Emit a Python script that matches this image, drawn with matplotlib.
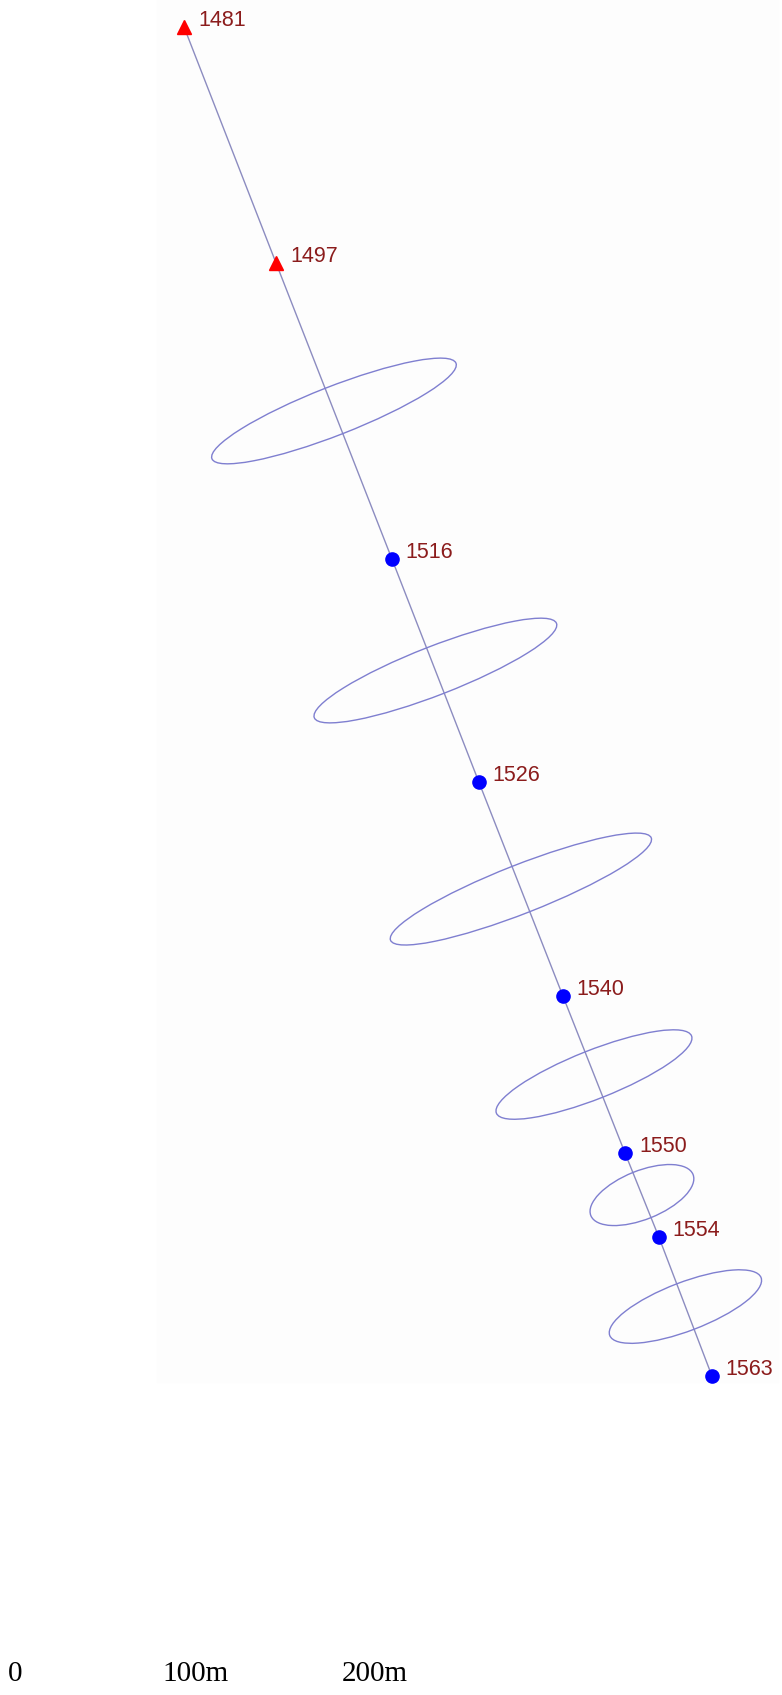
import numpy as np
import matplotlib
matplotlib.use("Agg")
import matplotlib.pyplot as plt
from matplotlib.patches import Ellipse, Rectangle

# station positions (m east / m north)
stations = ["1481", "1497", "1516", "1526", "1540", "1550", "1554", "1563"]
east = [93.9, 145.0, 209.4, 257.7, 304.4, 338.9, 357.7, 387.2]
north = [926.7, 795.6, 631.1, 507.2, 388.3, 301.1, 254.4, 177.2]
kind = ["tri", "tri", "dot", "dot", "dot", "dot", "dot", "dot"]

# error ellipses between consecutive stations (semi-axes in m)
ell_major = [72.8, 72.2, 77.8, 58.3, 30.6, 45.0]
ell_minor = [13.5, 13.5, 13.5, 13.5, 13.5, 13.5]

scale_ticks = [0, 100, 200]
scale_labels = ["0", "100m", "200m"]

W, H = 782, 1695
PX = 1.8   # pixels per metre
fig = plt.figure(figsize=(W / 100, H / 100), dpi=100)
fig.patch.set_facecolor("white")
# faint map background
fig.add_artist(Rectangle((157 / W, 313 / H), 621 / W, 1382 / H,
                         transform=fig.transFigure, color="#fdfdfd", zorder=0))

ax = fig.add_axes([0, 0, 1, 1])
ax.patch.set_alpha(0)
ax.set_xlim(-15 / PX, (W - 15) / PX)
ax.set_ylim(0, H / PX)
ax.axis("off")

e = np.array(east)
n = np.array(north)

ax.plot(e, n, color="#8c8cc0", lw=1.0, zorder=2)

for i in range(len(ell_major)):
    cx = (e[i + 1] + e[i + 2]) / 2
    cy = (n[i + 1] + n[i + 2]) / 2
    ang = np.degrees(np.arctan2(n[i + 2] - n[i + 1], e[i + 2] - e[i + 1])) + 90
    ax.add_patch(Ellipse((cx, cy), 2 * ell_major[i], 2 * ell_minor[i], angle=ang,
                         fill=False, edgecolor="#7f7fd0", lw=1.0, zorder=2))

for s, x, y, k in zip(stations, e, n, kind):
    if k == "tri":
        ax.plot(x, y, marker="^", color="#ff0000", markersize=10.5, zorder=3)
    else:
        ax.plot(x, y, marker="o", color="#0000ff", markersize=9.5, zorder=3)
    ax.annotate(s, (x, y), xytext=(10, 4.5), textcoords="offset points",
                color="#8b1c1c", fontsize=15.5, family="Liberation Sans",
                va="center", ha="left")

for t, lab in zip(scale_ticks, scale_labels):
    ax.text(t, (H - 1674) / PX, lab, ha="center", va="center",
            family="Liberation Serif", fontsize=21, color="black")

fig.savefig("out.png", dpi=100, facecolor="white")
